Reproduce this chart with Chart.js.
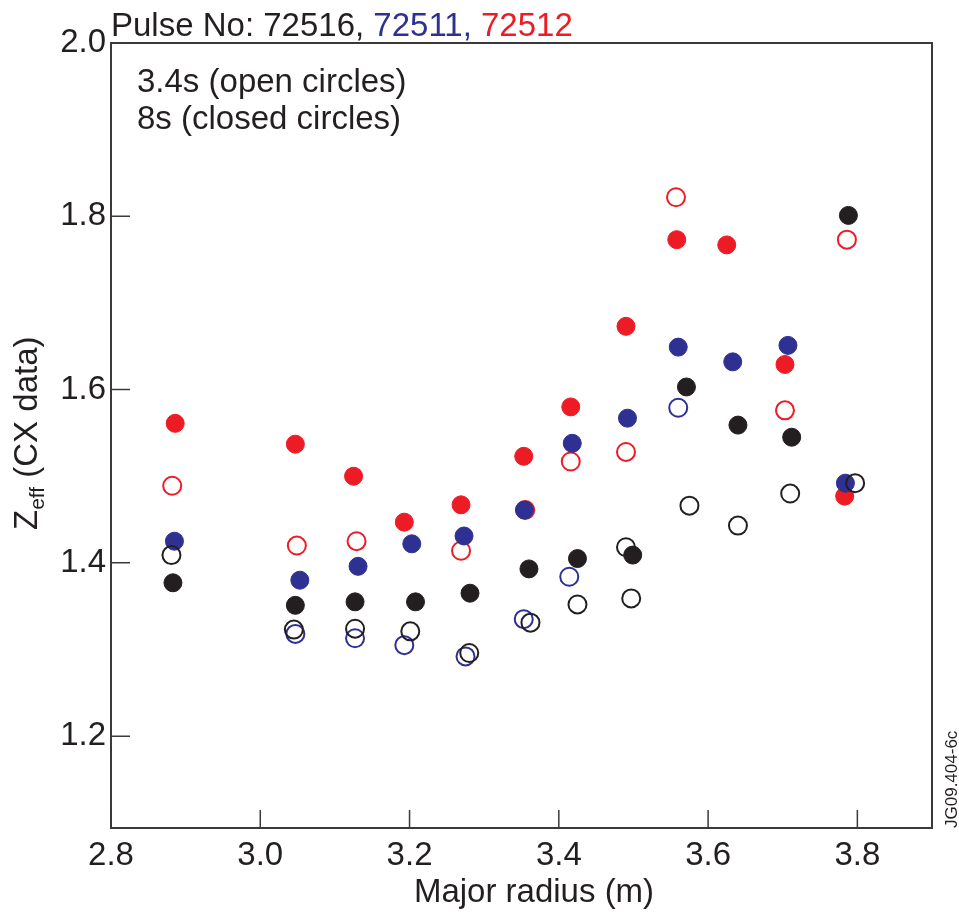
<!DOCTYPE html>
<html>
<head>
<meta charset="UTF-8">
<title>Zeff (CX data) vs major radius</title>
<script src="https://cdn.jsdelivr.net/npm/chart.js"></script>
<style>
    body { margin: 0; background: #fff; }
    #wrap { width: 959px; height: 916px; }
</style>
</head>
<body>
<div id="wrap"><canvas id="myChart" width="959" height="916"></canvas></div>
<script>
// axis ticks
const radiusTicks = [2.8, 3.0, 3.2, 3.4, 3.6, 3.8];
const zeffTicks = [1.2, 1.4, 1.6, 1.8, 2.0];

// pulse 72516 (black)
const r72516_34 = [2.881, 3.045, 3.127, 3.201, 3.280, 3.362, 3.425, 3.490, 3.497, 3.575, 3.640, 3.710, 3.797];
const z72516_34 = [1.409, 1.323, 1.324, 1.321, 1.296, 1.331, 1.352, 1.418, 1.359, 1.466, 1.443, 1.480, 1.492];
const r72516_8 = [2.883, 3.047, 3.127, 3.208, 3.281, 3.360, 3.425, 3.499, 3.571, 3.640, 3.712, 3.788];
const z72516_8 = [1.377, 1.351, 1.355, 1.355, 1.365, 1.393, 1.405, 1.409, 1.603, 1.559, 1.545, 1.801];

// pulse 72511 (blue)
const r72511_34 = [3.047, 3.127, 3.193, 3.275, 3.353, 3.414, 3.560];
const z72511_34 = [1.318, 1.313, 1.305, 1.292, 1.335, 1.384, 1.579];
const r72511_8 = [2.885, 3.053, 3.131, 3.203, 3.273, 3.354, 3.418, 3.492, 3.560, 3.633, 3.707, 3.784];
const z72511_8 = [1.425, 1.380, 1.396, 1.422, 1.431, 1.461, 1.538, 1.567, 1.649, 1.632, 1.651, 1.492];

// pulse 72512 (red)
const r72512_34 = [2.882, 3.049, 3.129, 3.269, 3.355, 3.416, 3.490, 3.557, 3.703, 3.786];
const z72512_34 = [1.489, 1.420, 1.425, 1.414, 1.461, 1.517, 1.528, 1.822, 1.576, 1.773];
const r72512_8 = [2.886, 3.047, 3.125, 3.193, 3.269, 3.353, 3.416, 3.490, 3.558, 3.625, 3.703, 3.783];
const z72512_8 = [1.561, 1.537, 1.500, 1.447, 1.467, 1.523, 1.580, 1.673, 1.773, 1.767, 1.629, 1.477];

const BLACK = '#231f20';
const BLUE = '#2e3192';
const RED = '#ed1c24';
const FONT = '"Liberation Sans", Arial, sans-serif';

function pts(xs, ys) {
    return xs.map((x, i) => ({ x: x, y: ys[i] }));
}

function openSet(label, xs, ys, color) {
    return {
        label: label, data: pts(xs, ys),
        pointRadius: 9, pointBorderWidth: 2,
        pointBackgroundColor: 'rgba(0,0,0,0)', pointBorderColor: color
    };
}

function closedSet(label, xs, ys, color) {
    return {
        label: label, data: pts(xs, ys),
        pointRadius: 9, pointBorderWidth: 1,
        pointBackgroundColor: color, pointBorderColor: color
    };
}

// inward ticks, box and all the texts
const frame = {
    id: 'frame',
    beforeDatasetsDraw(chart) {
        const { ctx, chartArea: a, scales: { x, y } } = chart;
        ctx.save();
        ctx.strokeStyle = '#3a3a3a';
        ctx.lineWidth = 2;
        ctx.strokeRect(a.left, a.top, a.right - a.left, a.bottom - a.top);
        ctx.lineWidth = 1.5;
        ctx.beginPath();
        radiusTicks.forEach(v => {
            const px = x.getPixelForValue(v);
            ctx.moveTo(px, a.bottom);
            ctx.lineTo(px, a.bottom - 18);
        });
        zeffTicks.forEach(v => {
            const py = y.getPixelForValue(v);
            ctx.moveTo(a.left, py);
            ctx.lineTo(a.left + 19, py);
        });
        ctx.stroke();
        ctx.restore();
    },
    afterDraw(chart) {
        const { ctx, chartArea: a } = chart;
        ctx.save();
        ctx.textBaseline = 'alphabetic';
        ctx.textAlign = 'left';
        ctx.font = '33px ' + FONT;

        // title with coloured pulse numbers
        let tx = a.left;
        [['Pulse No: 72516, ', BLACK], ['72511, ', BLUE], ['72512', RED]].forEach(p => {
            ctx.fillStyle = p[1];
            ctx.fillText(p[0], tx, 36);
            tx += ctx.measureText(p[0]).width;
        });

        ctx.fillStyle = BLACK;
        ctx.fillText('3.4s (open circles)', 137, 92);
        ctx.fillText('8s (closed circles)', 137, 129);

        ctx.textAlign = 'center';
        ctx.fillText('Major radius (m)', 534, 902);

        // y title with subscript
        ctx.save();
        ctx.translate(37, 530);
        ctx.rotate(-Math.PI / 2);
        ctx.textAlign = 'left';
        ctx.font = '33px ' + FONT;
        ctx.fillText('Z', 0, 0);
        let w = ctx.measureText('Z').width;
        ctx.font = '21px ' + FONT;
        ctx.fillText('eff', w, 7);
        w += ctx.measureText('eff').width;
        ctx.font = '33px ' + FONT;
        ctx.fillText(' (CX data)', w, 0);
        ctx.restore();

        // figure id
        ctx.save();
        ctx.translate(957, a.bottom);
        ctx.rotate(-Math.PI / 2);
        ctx.textAlign = 'left';
        ctx.font = '17px ' + FONT;
        ctx.fillText('JG09.404-6c', 0, 0);
        ctx.restore();

        ctx.restore();
    }
};

const ctx = document.getElementById('myChart').getContext('2d');
new Chart(ctx, {
    type: 'scatter',
    data: {
        datasets: [
            openSet('72516 3.4s', r72516_34, z72516_34, BLACK),
            closedSet('72516 8s', r72516_8, z72516_8, BLACK),
            closedSet('72511 8s', r72511_8, z72511_8, BLUE),
            openSet('72511 3.4s', r72511_34, z72511_34, BLUE),
            closedSet('72512 8s', r72512_8, z72512_8, RED),
            openSet('72512 3.4s', r72512_34, z72512_34, RED)
        ]
    },
    options: {
        responsive: false,
        animation: false,
        layout: { padding: { top: 43, right: 27, left: 0, bottom: 0 } },
        plugins: { legend: { display: false }, tooltip: { enabled: false } },
        scales: {
            x: {
                type: 'linear', min: 2.8, max: 3.9,
                grid: { display: false, drawTicks: false },
                border: { display: false },
                afterBuildTicks: s => { s.ticks = radiusTicks.map(v => ({ value: v })); },
                afterFit: s => { s.height = 88; },
                ticks: {
                    padding: 8, color: BLACK, maxRotation: 0,
                    font: { family: FONT, size: 33 },
                    callback: v => v.toFixed(1)
                }
            },
            y: {
                type: 'linear', min: 1.094, max: 2.0,
                grid: { display: false, drawTicks: false },
                border: { display: false },
                afterBuildTicks: s => { s.ticks = zeffTicks.map(v => ({ value: v })); },
                afterFit: s => { s.width = 111; },
                ticks: {
                    padding: 5, color: BLACK,
                    font: { family: FONT, size: 33 },
                    callback: v => v.toFixed(1)
                }
            }
        }
    },
    plugins: [frame]
});
</script>
</body>
</html>
